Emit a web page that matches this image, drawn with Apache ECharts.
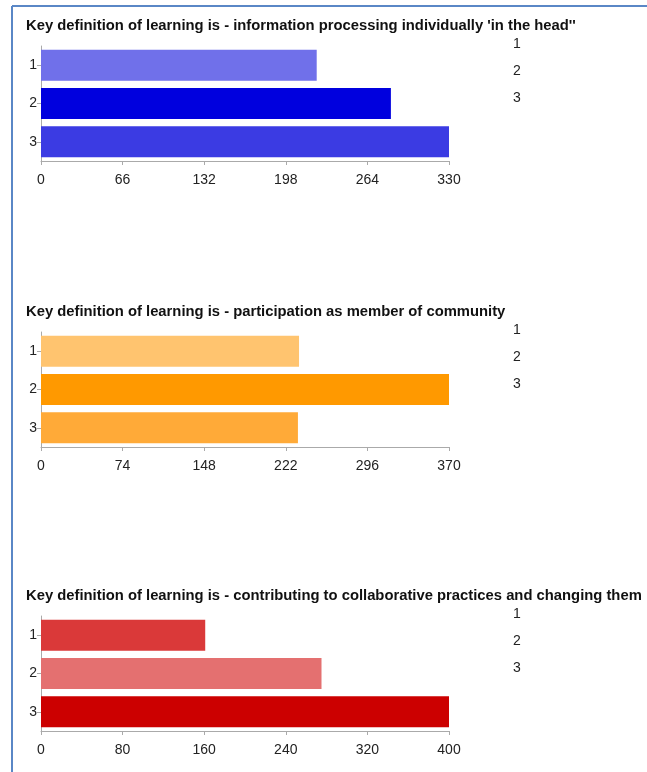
<!DOCTYPE html>
<html>
<head>
<meta charset="utf-8">
<script src="https://cdn.jsdelivr.net/npm/echarts@6/dist/echarts.min.js"></script>
<style>
html,body{margin:0;padding:0;background:#fff;}
#main{width:647px;height:772px;}
</style>
</head>
<body>
<div id="main"></div>
<script>
const categories = ['1', '2', '3'];
const titles = [
  "Key definition of learning is - information processing individually 'in the head''",
  "Key definition of learning is - participation as member of community",
  "Key definition of learning is - contributing to collaborative practices and changing them"
];
const valuesInfo = [223, 283, 330];
const valuesParticipation = [234, 370, 233];
const valuesContributing = [161, 275, 400];
const axisMax = [330, 370, 400];
const axisInterval = [66, 74, 80];
const colorsInfo = ['#7070ea', '#0000de', '#3b3be3'];
const colorsParticipation = ['#ffc46f', '#ff9900', '#ffaa38'];
const colorsContributing = ['#da3939', '#e47070', '#cc0000'];

const allValues = [valuesInfo, valuesParticipation, valuesContributing];
const allColors = [colorsInfo, colorsParticipation, colorsContributing];
const offsets = [0, 286, 570];

const chart = echarts.init(document.getElementById('main'), null, {renderer: 'canvas'});
const font = "'Liberation Sans', Arial, sans-serif";

const option = {
  animation: false,
  title: [], legend: [], grid: [], xAxis: [], yAxis: [], series: [],
  graphic: [
    {type: 'line', shape: {x1: 12, y1: 6, x2: 647, y2: 6}, style: {stroke: '#5a87c6', lineWidth: 2}},
    {type: 'line', shape: {x1: 12, y1: 6, x2: 12, y2: 772}, style: {stroke: '#5a87c6', lineWidth: 2}}
  ]
};

for (let k = 0; k < 3; k++) {
  const off = offsets[k];
  option.title.push({
    text: titles[k], left: 26, top: 18 + off, padding: 0,
    textStyle: {fontFamily: font, fontSize: 14.8, fontWeight: 'bold', color: '#111'}
  });
  option.legend.push({
    data: categories, orient: 'vertical', left: 508, top: 37 + off, padding: 0,
    itemWidth: 0, itemHeight: 14, itemGap: 13, selectedMode: false,
    textStyle: {fontFamily: font, fontSize: 14, color: '#222'}
  });
  option.grid.push({left: 41, top: 46 + off, width: 408, height: 115, containLabel: false});
  option.xAxis.push({
    type: 'value', gridIndex: k, min: 0, max: axisMax[k], interval: axisInterval[k],
    splitLine: {show: false},
    axisLine: {show: true, lineStyle: {color: '#aaaaaa', width: 1}},
    axisTick: {show: true, length: 4, lineStyle: {color: '#aaaaaa'}},
    axisLabel: {fontFamily: font, fontSize: 14, color: '#222', margin: 12}
  });
  option.yAxis.push({
    type: 'category', gridIndex: k, data: categories, inverse: true,
    axisLine: {show: true, lineStyle: {color: '#aaaaaa', width: 1}},
    axisTick: {show: true, alignWithLabel: true, length: 4, lineStyle: {color: '#aaaaaa'}},
    axisLabel: {fontFamily: font, fontSize: 14, color: '#222', margin: 4}
  });
  for (let i = 0; i < 3; i++) {
    const data = categories.map((c, j) => (j === i ? allValues[k][j] : '-'));
    option.series.push({
      type: 'bar', name: categories[i], xAxisIndex: k, yAxisIndex: k,
      data: data, barWidth: 31, barGap: '-100%',
      itemStyle: {color: allColors[k][i]},
      emphasis: {disabled: true}
    });
  }
}
chart.setOption(option);
</script>
</body>
</html>
